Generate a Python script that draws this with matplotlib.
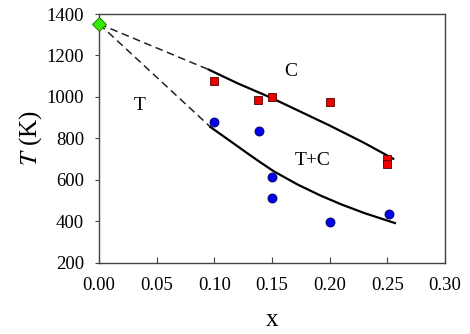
import matplotlib
matplotlib.use("Agg")
import matplotlib.pyplot as plt

plt.rcParams['font.family'] = ['Liberation Serif', 'DejaVu Serif']
plt.rcParams['mathtext.fontset'] = 'stix'

# measured points
c_x = [0.10, 0.138, 0.15, 0.20, 0.25, 0.25]
c_T = [1078, 987, 1000, 975, 700, 675]
tc_x = [0.10, 0.139, 0.15, 0.15, 0.20, 0.251]
tc_T = [880, 838, 613, 515, 397, 435]
pure_x = [0.0]
pure_T = [1352]

# boundary lines
upper_x = [0.095, 0.12, 0.15, 0.175, 0.20, 0.23, 0.255]
upper_T = [1132, 1066, 994, 928, 862, 778, 702]
lower_x = [0.0965, 0.113, 0.1284, 0.14, 0.1516, 0.172, 0.1922, 0.21, 0.23, 0.2565]
lower_T = [855, 790, 729, 684, 641, 578, 524, 482, 440, 392]

fig = plt.figure(figsize=(4.7, 3.34), dpi=100)
ax = fig.add_axes([0.211, 0.213, 0.736, 0.745])

# dashed extrapolations to the pure compound
ax.plot([pure_x[0], upper_x[0]], [pure_T[0], upper_T[0]], color='#222222', lw=1.1, dashes=(5, 3))
ax.plot([pure_x[0], lower_x[0]], [pure_T[0], lower_T[0]], color='#222222', lw=1.1, dashes=(5, 3))
ax.plot(upper_x, upper_T, '-', color='black', lw=1.6)
ax.plot(lower_x, lower_T, '-', color='black', lw=1.6)

ax.plot(c_x, c_T, 's', color='#ee0000', mec='#550000', mew=0.6, ms=5.5, ls='none')
ax.plot(tc_x, tc_T, 'o', color='#0000ee', mec='#000055', mew=0.6, ms=6.5, ls='none')
ax.plot(pure_x, pure_T, 'D', color='#33ee00', mec='#226600', mew=0.6, ms=7, ls='none', clip_on=False, zorder=5)

ax.text(0.035, 960, 'T', fontsize=14, ha='center', va='center')
ax.text(0.166, 1122, 'C', fontsize=14, ha='center', va='center')
ax.text(0.185, 696, 'T+C', fontsize=14, ha='center', va='center')

ax.set_xlim(0, 0.30)
ax.set_ylim(200, 1400)
ax.set_xticks([0.00, 0.05, 0.10, 0.15, 0.20, 0.25, 0.30])
ax.set_xticklabels(['0.00', '0.05', '0.10', '0.15', '0.20', '0.25', '0.30'])
ax.set_yticks([200, 400, 600, 800, 1000, 1200, 1400])
ax.tick_params(axis='x', direction='in', labelsize=13.5, length=4, color='#444444', pad=10)
ax.tick_params(axis='y', direction='out', labelsize=13.5, length=3, color='#444444', pad=8)
for s in ax.spines.values():
    s.set_color('#444444')
    s.set_linewidth(1.0)

ax.set_xlabel('x', fontsize=18, labelpad=11)
ax.set_ylabel('$T$ (K)', fontsize=18)
ax.yaxis.set_label_coords(-0.16, 0.5)

fig.savefig('out.png', dpi=100)
